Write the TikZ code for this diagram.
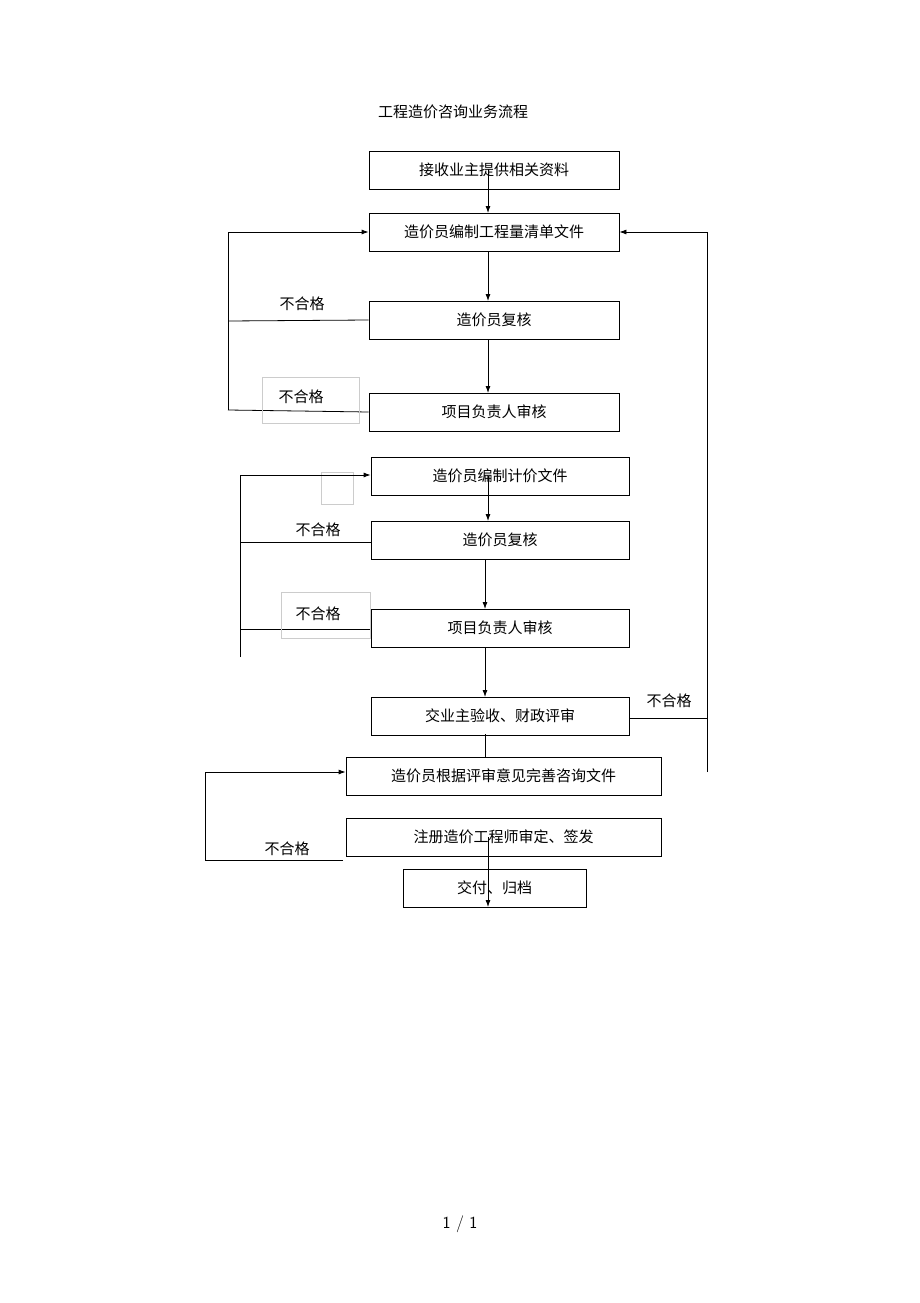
\documentclass[tikz,border=0pt]{standalone}
\usepackage{fontspec}
\newfontfamily\cjk{Noto Sans CJK SC}
\usetikzlibrary{arrows.meta}
\begin{document}
\begin{tikzpicture}[x=1pt,y=-1pt,
    box/.style={draw,thick,minimum height=38pt,inner sep=0pt,font=\cjk\fontsize{15}{15}\selectfont},
    lbl/.style={font=\cjk\fontsize{15}{15}\selectfont,inner sep=1pt},
    gbox/.style={draw=black!20,inner sep=0pt},
    arr/.style={thick,-{Latex[length=7pt,width=5pt]}}]
        \useasboundingbox (0,0) rectangle (920,1303);
        \node[lbl] (title) at (453,112) {工程造价咨询业务流程};

        \node[box,minimum width=250pt] (A) at (494,170) {接收业主提供相关资料};
        \node[box,minimum width=250pt] (B) at (494,232) {造价员编制工程量清单文件};
        \node[box,minimum width=250pt] (C) at (494,320) {造价员复核};
        \node[box,minimum width=250pt] (D) at (494,412) {项目负责人审核};
        \node[box,minimum width=258pt] (E) at (500,476) {造价员编制计价文件};
        \node[box,minimum width=258pt] (F) at (500,540) {造价员复核};
        \node[box,minimum width=258pt] (G) at (500,628) {项目负责人审核};
        \node[box,minimum width=258pt] (H) at (500,716) {交业主验收、财政评审};
        \node[box,minimum width=315pt] (I) at (503.5,776) {造价员根据评审意见完善咨询文件};
        \node[box,minimum width=315pt] (J) at (503.5,837) {注册造价工程师审定、签发};
        \node[box,minimum width=183pt] (K) at (494.5,888) {交付、归档};

        \draw[arr] (488,170) -- (488,213);
        \draw[arr] (488,251) -- (488,301);
        \draw[arr] (488,339) -- (488,393);
        \draw[arr] (488,476) -- (488,521);
        \draw[arr] (485,559) -- (485,609);
        \draw[arr] (485,647) -- (485,697);
        \draw[thick] (485,734) -- (485,757);
        \draw[arr] (488,837) -- (488,907);

        % left loop 1
        \coordinate (l1) at (228,232);
        \draw[arr] (228,410) -- (l1) -- (B.west);
        \draw[thick] (C.west) -- (228,321);
        \draw[thick] (D.west) -- (228,410);
        \node[lbl] (n1) at (302,304) {不合格};
        \node[gbox,minimum width=97pt,minimum height=46pt] (g1) at (310.5,400) {};
        \node[lbl] (n2) at (301,397) {不合格};

        % left loop 2
        \node[gbox,minimum size=32pt] (g2) at (337,488) {};
        \coordinate (l2) at (240,475);
        \draw[arr] (240,657) -- (l2) -- (E.west |- 0,475);
        \draw[thick] (F.west |- 0,542) -- (240,542);
        \draw[thick] (G.west |- 0,629) -- (240,629);
        \node[lbl] (n3) at (318,530) {不合格};
        \node[gbox,minimum width=89pt,minimum height=46pt] (g3) at (325.5,615) {};
        \node[lbl] (n4) at (318,614) {不合格};

        % right loop
        \coordinate (r1) at (707,232);
        \draw[thick] (H.east |- 0,718) -- (707,718);
        \draw[arr] (707,772) -- (r1) -- (B.east);
        \node[lbl] (n5) at (669,701) {不合格};

        % bottom loop
        \coordinate (b1) at (205,772);
        \draw[arr] (343,860) -- (205,860) -- (b1) -- (I.west |- 0,772);
        \node[lbl] (n6) at (287,849) {不合格};

        \node[font=\sffamily\fontsize{17}{17}\selectfont] (page) at (460,1224) {1 / 1};
\end{tikzpicture}
\end{document}
